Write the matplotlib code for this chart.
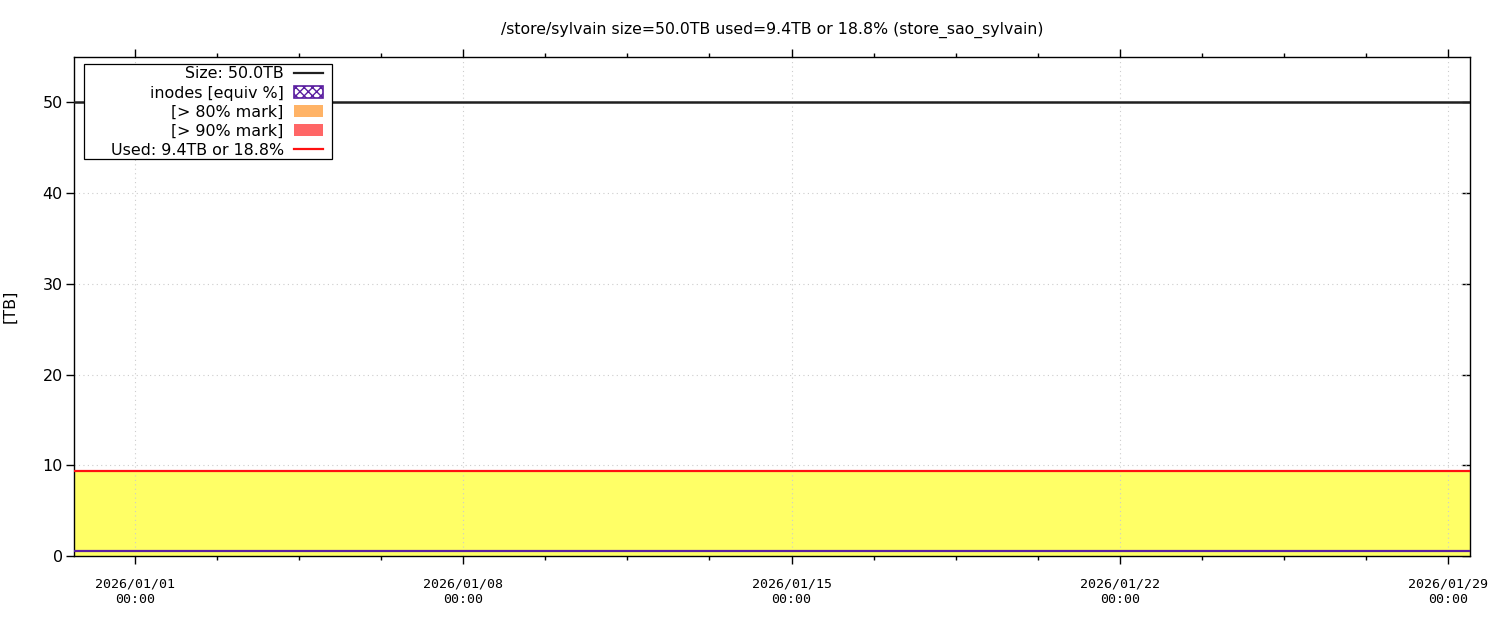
import numpy as np
import matplotlib
matplotlib.use('Agg')
import matplotlib.pyplot as plt
import matplotlib.dates as mdates
from matplotlib.patches import Patch, Rectangle
from matplotlib.lines import Line2D
from matplotlib.ticker import MultipleLocator

plt.rcParams['font.family'] = ['DejaVu Sans']

# sample times (one per day, plus the window edges)
times = ['2025-12-30 16:45', '2025-12-31 00:00',
         '2026-01-01 00:00', '2026-01-02 00:00', '2026-01-03 00:00', '2026-01-04 00:00',
         '2026-01-05 00:00', '2026-01-06 00:00', '2026-01-07 00:00', '2026-01-08 00:00',
         '2026-01-09 00:00', '2026-01-10 00:00', '2026-01-11 00:00', '2026-01-12 00:00',
         '2026-01-13 00:00', '2026-01-14 00:00', '2026-01-15 00:00', '2026-01-16 00:00',
         '2026-01-17 00:00', '2026-01-18 00:00', '2026-01-19 00:00', '2026-01-20 00:00',
         '2026-01-21 00:00', '2026-01-22 00:00', '2026-01-23 00:00', '2026-01-24 00:00',
         '2026-01-25 00:00', '2026-01-26 00:00', '2026-01-27 00:00', '2026-01-28 00:00',
         '2026-01-29 00:00', '2026-01-29 11:15']

used_tb = [9.4, 9.4, 9.4, 9.4, 9.4, 9.4, 9.4, 9.4, 9.4, 9.4, 9.4, 9.4, 9.4, 9.4, 9.4, 9.4,
           9.4, 9.4, 9.4, 9.4, 9.4, 9.4, 9.4, 9.4, 9.4, 9.4, 9.4, 9.4, 9.4, 9.4, 9.4, 9.4]
inodes_tb = [0.5, 0.5, 0.5, 0.5, 0.5, 0.5, 0.5, 0.5, 0.5, 0.5, 0.5, 0.5, 0.5, 0.5, 0.5, 0.5,
             0.5, 0.5, 0.5, 0.5, 0.5, 0.5, 0.5, 0.5, 0.5, 0.5, 0.5, 0.5, 0.5, 0.5, 0.5, 0.5]
size_tb = 50.0

title = '/store/sylvain size=50.0TB used=9.4TB or 18.8% (store_sao_sylvain)'
legend_labels = ['Size: 50.0TB', 'inodes [equiv %]', '[> 80% mark]', '[> 90% mark]',
                 'Used: 9.4TB or 18.8%']

t = np.array(times, dtype='datetime64[m]')

fig = plt.figure(figsize=(15, 6.2), dpi=100)
ax = fig.add_axes([74/1500, 1-556/620, 1396/1500, 499/620])

ax.fill_between(t, 0, used_tb, color='#ffff66', lw=0, zorder=1)
ax.plot(t, used_tb, color='#ff1010', lw=1.6, zorder=3)
ax.plot(t, inodes_tb, color='#5a1ea0', lw=1.6, zorder=3)
ax.axhline(size_tb, color='#202020', lw=1.8, zorder=3)

ax.set_xlim(t[0], t[-1])
ax.set_ylim(0, 55)

ax.xaxis.set_major_locator(MultipleLocator(7))
ax.xaxis.set_minor_locator(MultipleLocator(1.75))
ax.xaxis.set_major_formatter(mdates.DateFormatter('%Y/%m/%d\n%H:%M'))
ax.yaxis.set_major_locator(MultipleLocator(10))

for lbl in ax.get_xticklabels():
    lbl.set_family('DejaVu Sans Mono')
    lbl.set_fontsize(9.5)
ax.tick_params(axis='x', which='major', direction='out', length=5.5, width=1,
               top=True, bottom=True, pad=10)
ax.tick_params(axis='x', which='minor', direction='out', length=3.2, width=1,
               top=True, bottom=True)
ax.tick_params(axis='y', which='major', direction='out', length=6, width=1,
               left=True, right=False, labelsize=11.5, pad=2)

sec = ax.secondary_yaxis('right')
sec.yaxis.set_major_locator(MultipleLocator(10))
sec.tick_params(direction='in', length=6, width=1, labelright=False)
for s in sec.spines.values():
    s.set_visible(False)

ax.grid(True, which='major', color='#cccccc', lw=0.8, ls=(0, (1, 3)))
for s in ax.spines.values():
    s.set_linewidth(1)
    s.set_color('black')

ax.set_title(title, fontsize=11.3, pad=17)
ax.set_ylabel('[TB]', fontsize=11.5)
ax.yaxis.set_label_coords(-(74-17)/1396, 0.5)

# legend frame drawn separately (gnuplot-style fixed width box)
frame = Rectangle((84/1500, 1-159/620), (332-84)/1500, (159-64)/620,
                  transform=fig.transFigure, facecolor='white', edgecolor='black',
                  lw=0.9, zorder=4, clip_on=False)
ax.add_patch(frame)

handles = [Line2D([], [], color='#202020', lw=1.6),
           Patch(facecolor='white', edgecolor='#5a1ea0', hatch='xxxx', lw=1.2),
           Patch(facecolor='#ffb366', edgecolor='none'),
           Patch(facecolor='#ff6666', edgecolor='none'),
           Line2D([], [], color='#ff1010', lw=1.6)]
leg = ax.legend(handles, legend_labels, loc='upper right',
                bbox_to_anchor=(323/1500, 1-66.5/620), bbox_transform=fig.transFigure,
                markerfirst=False, frameon=False, fontsize=11.4,
                handlelength=1.85, handleheight=0.76, labelspacing=0.26,
                borderpad=0, handletextpad=0.63, borderaxespad=0)
leg.set_zorder(5)
for txt in leg.get_texts():
    txt.set_ha('right')

fig.savefig('out.png', dpi=100)
